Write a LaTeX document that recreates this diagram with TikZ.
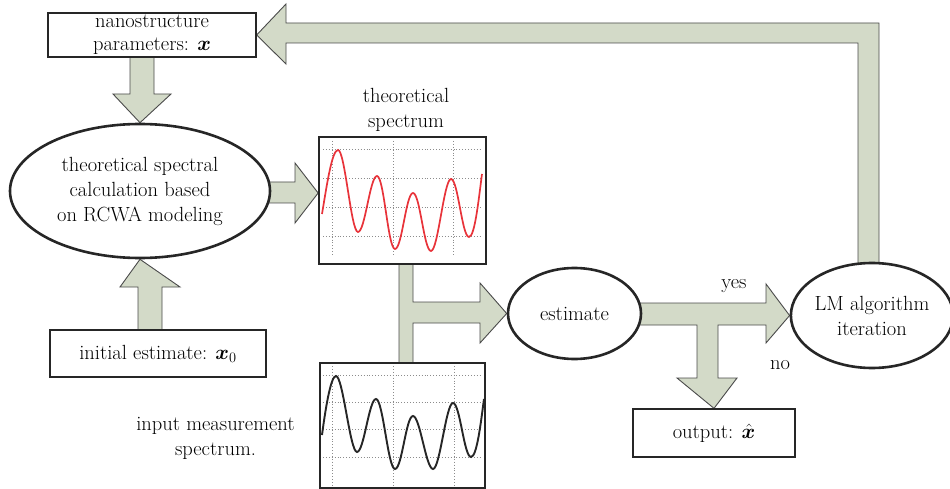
\documentclass[tikz,border=0pt]{standalone}
\usepackage{bm}
\usetikzlibrary{shapes.geometric,backgrounds}
\definecolor{arrowfill}{HTML}{D3DAC8}
\definecolor{arrowline}{HTML}{4A4A4A}
\definecolor{specred}{HTML}{E8333A}
\newcommand\lblfont{\fontsize{20.5}{25}\selectfont}
\tikzset{
 blockarrow/.style={fill=arrowfill, draw=arrowline, line width=0.9pt, line join=miter},
 ell/.style={ellipse, draw=black!85, line width=2.6pt, fill=white, inner sep=0pt, align=center, font=\lblfont},
 box/.style={rectangle, draw=black!85, line width=1.3pt, fill=white, inner sep=0pt, align=center, font=\lblfont},
 panel/.style={rectangle, draw=black!85, line width=1.7pt, fill=white, inner sep=0pt},
 gridline/.style={draw=black!45, line width=0.9pt, dotted},
 lbl/.style={font=\lblfont, align=center, inner sep=0pt},
 redcurve/.style={draw=specred, line width=1.7pt},
 blackcurve/.style={draw=black!85, line width=1.9pt}
}
\begin{document}
\begin{tikzpicture}[x=1pt,y=-1pt]
\useasboundingbox (0,0) rectangle (950,489);

% nodes
\node[box, minimum width=208pt, minimum height=44pt] (params) at (152,35) {nanostructure\\[-2pt]parameters: $\bm{x}$};
\node[ell, minimum width=260pt, minimum height=134pt] (theo) at (140,191) {theoretical spectral\\calculation based\\on RCWA modeling};
\node[box, minimum width=216pt, minimum height=47pt] (init) at (158,353.5) {initial estimate: $\bm{x}_{0}$};
\node[panel, minimum width=167pt, minimum height=127pt] (tpanel) at (402.5,200.5) {};
\node[panel, minimum width=165pt, minimum height=125pt] (mpanel) at (402.5,425.5) {};
\node[ell, minimum width=133pt, minimum height=91pt] (est) at (574.5,313.5) {estimate};
\node[ell, minimum width=154pt, minimum height=105pt] (lm) at (872,315.5) {LM algorithm\\iteration};
\node[box, minimum width=162pt, minimum height=48pt] (out) at (714,433) {output: $\hat{\bm{x}}$};

\node[lbl] (ttitle) at (406,110) {theoretical\\spectrum};
\node[lbl] (mtitle) at (215.5,438) {input measurement\\spectrum.};
\node[lbl] (yes) at (734,286) {yes};
\node[lbl] (no) at (780,365) {no};

% grids
\foreach \yy in {149,178,207,236} \draw[gridline] (323,\yy) -- (482,\yy);
\foreach \xx in {332,393,453} \draw[gridline] (\xx,141) -- (\xx,256);
\foreach \yy in {375,402,429,457} \draw[gridline] (323,\yy) -- (482,\yy);
\foreach \xx in {332,393,454} \draw[gridline] (\xx,366) -- (\xx,485);

% theoretical spectrum curve
\draw[redcurve] (322,214) .. controls +(5,-30) and +(-6,0) .. (338,150)
 .. controls +(7,0) and +(-7,0) .. (358,232)
 .. controls +(7,0) and +(-7,0) .. (377,176)
 .. controls +(7,0) and +(-7,0) .. (395,249)
 .. controls +(7,0) and +(-7,0) .. (413,193)
 .. controls +(7,0) and +(-7,0) .. (431,251)
 .. controls +(7,0) and +(-7,0) .. (451,179)
 .. controls +(7,0) and +(-7,0) .. (469,237)
 .. controls +(6,0) and +(-3,22) .. (482,174);

% measured spectrum curve
\draw[blackcurve] (322,435) .. controls +(4,-30) and +(-5,0) .. (336,376)
 .. controls +(7,0) and +(-7,0) .. (357,452)
 .. controls +(7,0) and +(-7,0) .. (376,399)
 .. controls +(7,0) and +(-7,0) .. (395,469)
 .. controls +(7,0) and +(-7,0) .. (413,416)
 .. controls +(7,0) and +(-7,0) .. (433,469)
 .. controls +(7,0) and +(-7,0) .. (453,403)
 .. controls +(7,0) and +(-7,0) .. (471,457)
 .. controls +(6,0) and +(-3,22) .. (484,399);

% block arrows
\begin{scope}[on background layer]
\draw[blockarrow] (858,272) -- (858,43) -- (286,43) -- (286,64) -- (params.east) -- (286,4) -- (286,23) -- (879,23) -- (879,272) -- cycle;
\draw[blockarrow] (130,55) -- (130,94) -- (113,94) -- (theo.north) -- (171,94) -- (154,94) -- (154,55) -- cycle;
\draw[blockarrow] (138,333) -- (138,287) -- (120,287) -- (theo.south) -- (180,287) -- (162,287) -- (162,333) -- cycle;
\draw[blockarrow] (262,182) -- (295,182) -- (295,163) -- (tpanel.west |- 0,193) -- (295,223) -- (295,203) -- (262,203) -- cycle;
\draw[blockarrow] (399,262) -- (413,262) -- (413,302) -- (480,302) -- (480,283) -- (est.west) -- (480,343) -- (480,323) -- (413,323) -- (413,365) -- (399,365) -- cycle;
\draw[blockarrow] (630,303) -- (766,303) -- (766,284) -- (lm.west) -- (766,343) -- (766,325) -- (718,325) -- (718,378) -- (737,378) -- (out.north) -- (677,378) -- (697,378) -- (697,325) -- (630,325) -- cycle;
\end{scope}
\end{tikzpicture}
\end{document}
